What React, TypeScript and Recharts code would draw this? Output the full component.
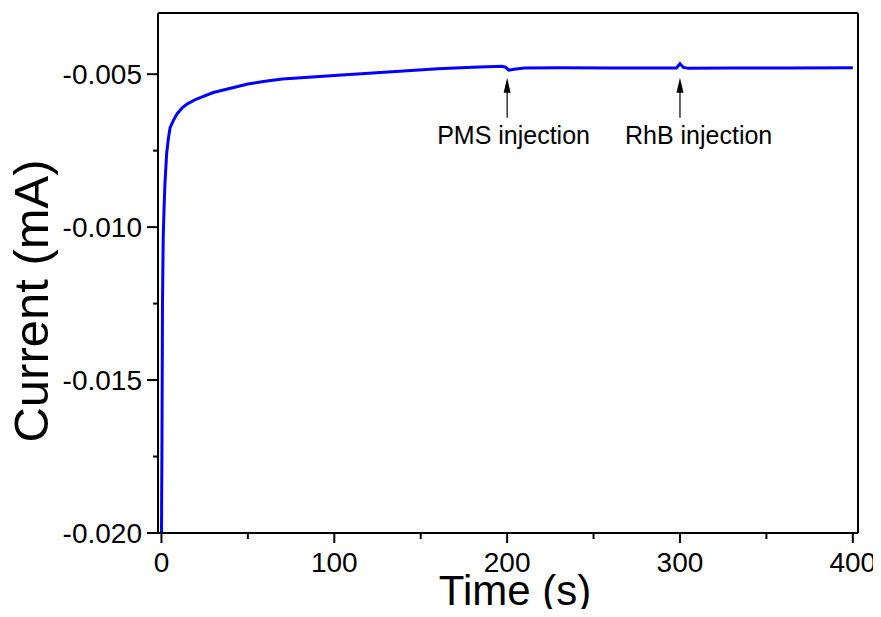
import React from 'react';
import { LineChart, Line, XAxis, YAxis, ReferenceLine, ReferenceDot, Label } from 'recharts';

const timeS: number[] = [0, 0.3, 0.6, 1.0, 1.5, 2.0, 3.0, 4.0, 5.0, 7, 9, 12, 15, 20, 25, 30, 40, 50, 60, 70, 85, 100, 120, 140, 160, 180, 197, 199, 201, 204, 210, 230, 260, 290, 298, 300, 302, 305, 330, 360, 400];
const currentMA: number[] = [-0.0202, -0.0170, -0.0125, -0.0104, -0.0094, -0.0086, -0.0076, -0.0071, -0.00675, -0.0065, -0.0063, -0.0061, -0.00597, -0.00582, -0.00571, -0.0056, -0.00546, -0.00532, -0.00523, -0.00516, -0.0051, -0.00504, -0.00497, -0.0049, -0.00482, -0.00477, -0.00474, -0.00477, -0.00487, -0.00484, -0.0048, -0.00479, -0.0048, -0.0048, -0.0048, -0.00466, -0.00478, -0.00481, -0.0048, -0.0048, -0.00479];

const xTicks: number[] = [0, 50, 100, 150, 200, 250, 300, 350, 400];
const yTicks: number[] = [-0.02, -0.0175, -0.015, -0.0125, -0.01, -0.0075, -0.005];
const yMajor: number[] = [-0.02, -0.015, -0.01, -0.005];

const annTimes: number[] = [200, 300];
const annTip: number[] = [-0.00512, -0.00512];
const annTexts: string[] = ['PMS injection', 'RhB injection'];
const annDx: number[] = [-70, -55];

const data = timeS.map((t, i) => ({ t, c: currentMA[i] }));

const FONT = 'Arial, "Liberation Sans", sans-serif';

const XTick = (props: any) => {
  const { x, y, payload } = props;
  const major = payload.value % 100 === 0;
  return (
    <g>
      <line x1={x} x2={x} y1={y} y2={y + (major ? 10 : 6)} stroke="#000" strokeWidth={2} />
      {major && (
        <text x={x} y={y + 39} textAnchor="middle" fontSize={28} fontFamily={FONT} fill="#000">
          {payload.value}
        </text>
      )}
    </g>
  );
};

const YTick = (props: any) => {
  const { x, y, payload } = props;
  const major = yMajor.some((m) => Math.abs(m - payload.value) < 1e-9);
  return (
    <g>
      <line x1={x - (major ? 11 : 5)} x2={x} y1={y} y2={y} stroke="#000" strokeWidth={2} />
      {major && (
        <text x={x - 16} y={y + 10} textAnchor="end" fontSize={28} fontFamily={FONT} fill="#000">
          {payload.value.toFixed(3)}
        </text>
      )}
    </g>
  );
};

const makeArrow = (text: string, dx: number) => (props: any) => {
  const { cx, cy } = props;
  return (
    <g>
      <line x1={cx} x2={cx} y1={cy + 8} y2={cy + 40} stroke="#000" strokeWidth={1.2} />
      <polygon points={`${cx},${cy} ${cx - 3.5},${cy + 15} ${cx + 3.5},${cy + 15}`} fill="#000" />
      <text x={cx + dx} y={cy + 66} fontSize={25} fontFamily={FONT} fill="#000">
        {text}
      </text>
    </g>
  );
};

export default function App() {
  return (
    <div style={{ width: 873, height: 601 }}>
      <style>{'html,body{overflow:hidden}'}</style>
      <LineChart width={873} height={609} data={data} margin={{ top: 5, right: 23, bottom: 24, left: 50 }}>
        <XAxis
          dataKey="t"
          type="number"
          domain={[-2, 403]}
          allowDataOverflow
          ticks={xTicks}
          interval={0}
          tick={<XTick />}
          tickLine={false}
          tickSize={0}
          tickMargin={0}
          height={60}
          axisLine={{ stroke: '#000', strokeWidth: 2 }}
        >
          <Label
            content={(p: any) => {
              const vb = p.viewBox;
              return (
                <text x={vb.x + vb.width / 2 + 7} y={vb.y + 72} textAnchor="middle" fontSize={42} fontFamily={FONT} fill="#000">
                  Time (s)
                </text>
              );
            }}
          />
        </XAxis>
        <YAxis
          type="number"
          domain={[-0.02, -0.003]}
          allowDataOverflow
          ticks={yTicks}
          interval={0}
          tick={<YTick />}
          tickLine={false}
          tickSize={0}
          tickMargin={0}
          width={100}
          axisLine={{ stroke: '#000', strokeWidth: 2 }}
        >
          <Label
            content={() => {
              const cx = 40;
              const cy = 293;
              return (
                <text x={cx} y={cy} transform={`rotate(-90, ${cx}, ${cy})`} textAnchor="middle" fontSize={49} fontFamily={FONT} fill="#000">
                  Current (mA)
                </text>
              );
            }}
          />
        </YAxis>
        <ReferenceLine y={-0.003} stroke="#000" strokeWidth={2} />
        <ReferenceLine x={403} stroke="#000" strokeWidth={2} />
        <Line dataKey="c" type="linear" stroke="#0000FF" strokeWidth={3} dot={false} isAnimationActive={false} />
        {annTimes.map((t, i) => (
          <ReferenceDot key={i} x={t} y={annTip[i]} r={0} shape={makeArrow(annTexts[i], annDx[i])} />
        ))}
      </LineChart>
    </div>
  );
}
